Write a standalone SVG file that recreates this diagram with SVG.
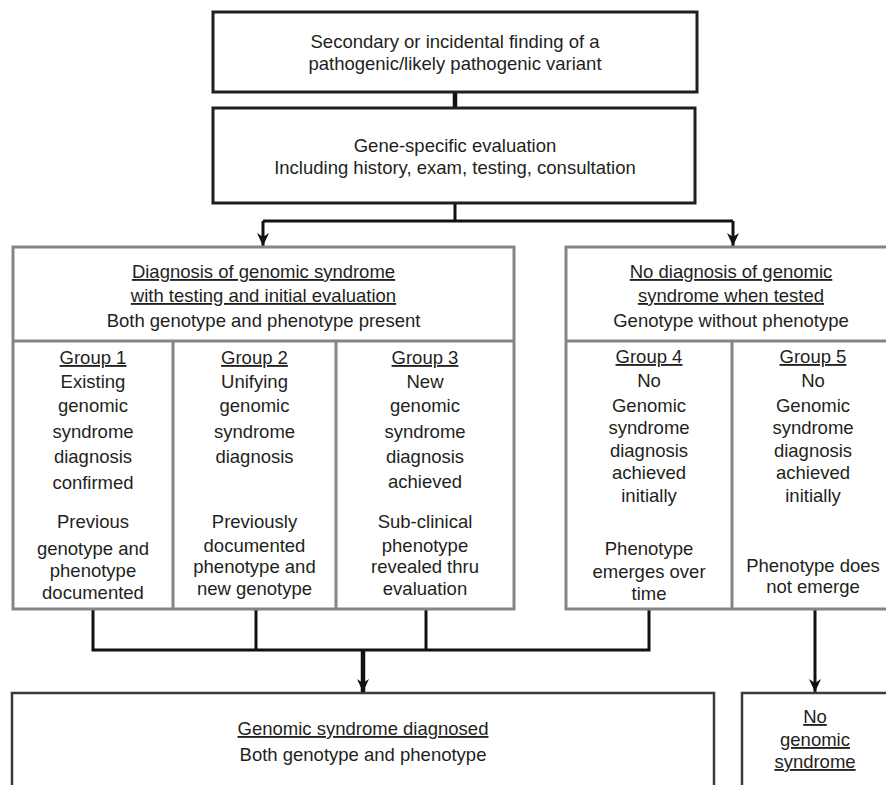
<svg xmlns="http://www.w3.org/2000/svg" width="886" height="785" viewBox="0 0 886 785">
<style>
text{font-family:"Liberation Sans",Arial,Helvetica,sans-serif;font-size:18.5px;fill:#231f20;text-anchor:middle}
.u{text-decoration:underline}
.top{fill:#fff;stroke:#1e1e1e;stroke-width:3}
.grp{fill:#fff;stroke:#858585;stroke-width:3}
.div{stroke:#858585;stroke-width:3;fill:none}
.bot{fill:#fff;stroke:#3a3a3a;stroke-width:2.5}
.c{stroke:#111;stroke-width:3;fill:none}
.ck{stroke:#111;stroke-width:4.5;fill:none}
</style>
<defs>
<marker id="ah" markerUnits="userSpaceOnUse" markerWidth="14" markerHeight="14" viewBox="0 0 14 14" refX="13" refY="7" orient="auto">
<path d="M0,1 L13,7 L0,13 L4,7 z" fill="#111"/>
</marker>
</defs>
<g id="connectors">
<line class="ck" x1="455" y1="92" x2="455" y2="108"/>
<polyline class="c" points="455,203 455,221"/>
<polyline class="c" points="263,221 733,221"/>
<line class="c" x1="263" y1="221" x2="263" y2="246" marker-end="url(#ah)"/>
<line class="c" x1="733" y1="221" x2="733" y2="246" marker-end="url(#ah)"/>
<polyline class="c" points="93,609 93,650 649,650 649,609"/>
<line class="c" x1="256" y1="609" x2="256" y2="650"/>
<line class="c" x1="426" y1="609" x2="426" y2="650"/>
<line class="ck" x1="363" y1="650" x2="363" y2="692" marker-end="url(#ah)"/>
<line class="c" x1="815" y1="609" x2="815" y2="692" marker-end="url(#ah)"/>
</g>
<g id="n-finding">
<rect class="top" x="213" y="12" width="484" height="80"/>
<text x="455" y="48">Secondary or incidental finding of a</text>
<text x="455" y="70">pathogenic/likely pathogenic variant</text>
</g>
<g id="n-evaluation">
<rect class="top" x="213" y="108" width="482" height="95"/>
<text x="455" y="152">Gene-specific evaluation</text>
<text x="455" y="174">Including history, exam, testing, consultation</text>
</g>
<g id="n-diagnosis">
<rect class="grp" x="13" y="247" width="501" height="362"/>
<line class="div" x1="13" y1="341" x2="514" y2="341"/>
<line class="div" x1="173" y1="341" x2="173" y2="609"/>
<line class="div" x1="336" y1="341" x2="336" y2="609"/>
<text class="u" x="263.5" y="278">Diagnosis of genomic syndrome</text>
<text class="u" x="263.5" y="302">with testing and initial evaluation</text>
<text x="263.5" y="327">Both genotype and phenotype present</text>
</g>
<g id="n-group1">
<text class="u" x="93" y="364">Group 1</text>
<text x="93" y="388">Existing</text>
<text x="93" y="412">genomic</text>
<text x="93" y="438">syndrome</text>
<text x="93" y="463">diagnosis</text>
<text x="93" y="489">confirmed</text>
<text x="93" y="528">Previous</text>
<text x="93" y="555">genotype and</text>
<text x="93" y="577">phenotype</text>
<text x="93" y="599">documented</text>
</g>
<g id="n-group2">
<text class="u" x="254.5" y="364">Group 2</text>
<text x="254.5" y="388">Unifying</text>
<text x="254.5" y="412">genomic</text>
<text x="254.5" y="438">syndrome</text>
<text x="254.5" y="463">diagnosis</text>
<text x="254.5" y="528">Previously</text>
<text x="254.5" y="552">documented</text>
<text x="254.5" y="573">phenotype and</text>
<text x="254.5" y="595">new genotype</text>
</g>
<g id="n-group3">
<text class="u" x="425" y="364">Group 3</text>
<text x="425" y="388">New</text>
<text x="425" y="412">genomic</text>
<text x="425" y="438">syndrome</text>
<text x="425" y="463">diagnosis</text>
<text x="425" y="488">achieved</text>
<text x="425" y="528">Sub-clinical</text>
<text x="425" y="552">phenotype</text>
<text x="425" y="573">revealed thru</text>
<text x="425" y="595">evaluation</text>
</g>
<g id="n-nodiagnosis">
<rect class="grp" x="566" y="247" width="324" height="362"/>
<line class="div" x1="566" y1="341" x2="890" y2="341"/>
<line class="div" x1="732" y1="341" x2="732" y2="609"/>
<text class="u" x="731" y="278">No diagnosis of genomic</text>
<text class="u" x="731" y="302">syndrome when tested</text>
<text x="731" y="327">Genotype without phenotype</text>
</g>
<g id="n-group4">
<text class="u" x="649" y="363">Group 4</text>
<text x="649" y="387">No</text>
<text x="649" y="412">Genomic</text>
<text x="649" y="434">syndrome</text>
<text x="649" y="457">diagnosis</text>
<text x="649" y="479">achieved</text>
<text x="649" y="502">initially</text>
<text x="649" y="555">Phenotype</text>
<text x="649" y="578">emerges over</text>
<text x="649" y="600">time</text>
</g>
<g id="n-group5">
<text class="u" x="813" y="363">Group 5</text>
<text x="813" y="387">No</text>
<text x="813" y="412">Genomic</text>
<text x="813" y="434">syndrome</text>
<text x="813" y="457">diagnosis</text>
<text x="813" y="479">achieved</text>
<text x="813" y="502">initially</text>
<text x="813" y="572">Phenotype does</text>
<text x="813" y="593">not emerge</text>
</g>
<g id="n-diagnosed">
<rect class="bot" x="12" y="693" width="702" height="110"/>
<text class="u" x="363" y="735">Genomic syndrome diagnosed</text>
<text x="363" y="761">Both genotype and phenotype</text>
</g>
<g id="n-nosyndrome">
<rect class="bot" x="742" y="693" width="146" height="110"/>
<text class="u" x="815" y="723">No</text>
<text class="u" x="815" y="746">genomic</text>
<text class="u" x="815" y="768">syndrome</text>
</g>
</svg>
